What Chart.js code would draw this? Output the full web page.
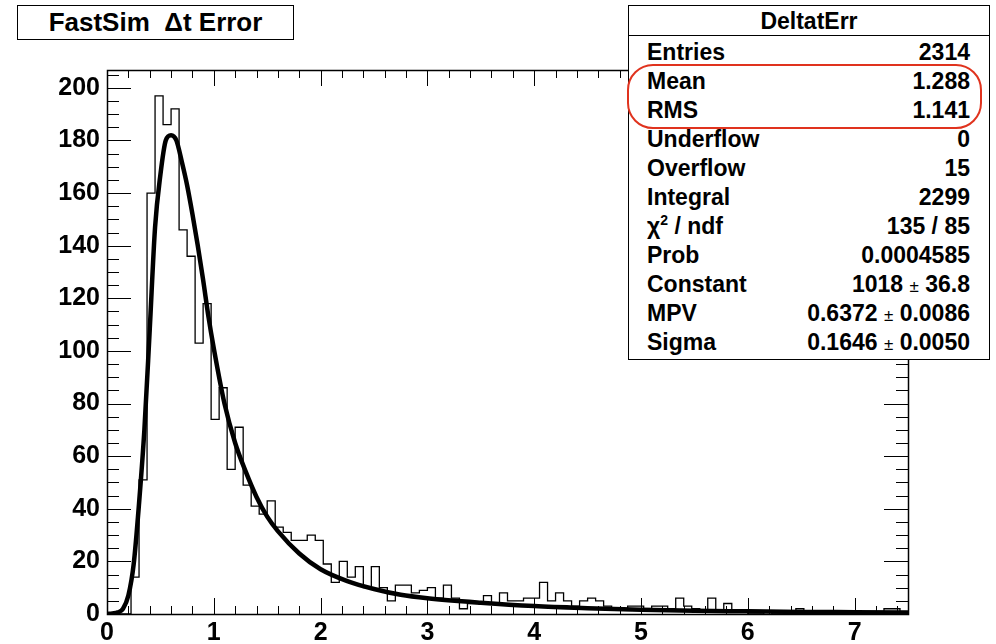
<!DOCTYPE html>
<html>
<head>
<meta charset="utf-8">
<title>FastSim Δt Error</title>
<script src="https://cdn.jsdelivr.net/npm/chart.js@4.4.1/dist/chart.umd.min.js"></script>
<style>
    body { margin: 0; background: #fff; }
    #wrap { position: relative; width: 996px; height: 644px; font-family: "Liberation Sans", Arial, Helvetica, sans-serif; font-weight: bold; color: #000; }
    #myChart { position: absolute; left: 0; top: 0; }
    .title-box {
        position: absolute; left: 17px; top: 5px; width: 277px; height: 35px;
        box-sizing: border-box; border: 1px solid #000; background: #fff;
        text-align: center; font-size: 26px; line-height: 33px;
    }
    .stats {
        position: absolute; left: 628px; top: 5px; width: 362px; height: 355px;
        box-sizing: border-box; border: 1px solid #000; background: #fff; font-size: 23px;
    }
    .stats .head { height: 29px; line-height: 31px; text-align: center; border-bottom: 1px solid #000; }
    .stats .rows { padding-top: 1.5px; }
    .stats .row { display: flex; justify-content: space-between; height: 29.1px; line-height: 29.1px; padding: 0 19px 0 18px; }
    .stats sup { font-size: 14px; line-height: 0; }
    .pm { font-size: 17px; font-weight: normal; }
    .mark {
        position: absolute; left: 627px; top: 64px; width: 355px; height: 65px;
        box-sizing: border-box; border: 2.5px solid #e0331e; border-radius: 26px;
    }
</style>
</head>
<body>
<div id="wrap">
    <canvas id="myChart" width="996" height="644"></canvas>
    <div class="title-box">FastSim&nbsp;&nbsp;&Delta;t Error</div>
    <div class="stats">
        <div class="head">DeltatErr</div>
        <div class="rows" id="statRows"></div>
    </div>
    <div class="mark"></div>
</div>
<script>
// histogram: 100 bins from 0 to 7.5
const binWidth = 0.075;
const binCounts = [
    0, 0, 0, 14, 51, 160, 197, 186, 192, 146,
    136, 103, 118, 74, 86, 55, 71, 49, 41, 38,
    43, 33, 31, 28, 28, 30, 28, 19, 12, 20,
    14, 18, 10, 18, 10, 5, 11, 11, 8, 9,
    10, 6, 11, 6, 2, 4, 4, 7, 4, 8,
    5, 5, 6, 6, 12, 5, 8, 5, 3, 5,
    6, 5, 3, 2, 2, 3, 3, 2, 3, 3,
    2, 6, 3, 2, 1, 6, 1, 4, 1, 1,
    0, 0, 1, 0, 0, 0, 2, 0, 0, 0,
    0, 0, 0, 0, 0, 0, 0, 2, 2, 0
];

// landau fit
const fitX = [0, 0.05, 0.1, 0.15, 0.2, 0.25, 0.3, 0.35, 0.4, 0.45, 0.5, 0.55, 0.6, 0.65, 0.7, 0.75, 0.8, 0.85, 0.9, 0.95,
    1.0, 1.1, 1.2, 1.3, 1.4, 1.5, 1.6, 1.8, 2.0, 2.25, 2.5, 2.75, 3.0, 3.5, 4.0, 4.5, 5.0, 5.5, 6.0, 6.5, 7.0, 7.5];
const fitY = [0, 0.2, 0.6, 2, 7, 19, 42, 70, 108, 147, 167, 180, 182, 180, 172, 163, 152, 140, 127, 113,
    101, 80, 65, 54, 44.5, 37, 31.5, 23, 17, 12.5, 9.5, 7.3, 6, 4.3, 3, 2.2, 1.6, 1.2, 1.0, 0.8, 0.7, 0.6];

// stats box
const statLabels = ['Entries', 'Mean', 'RMS', 'Underflow', 'Overflow', 'Integral', 'χ<sup>2</sup> / ndf', 'Prob', 'Constant', 'MPV', 'Sigma'];
const statValues = ['2314', '1.288', '1.141', '0', '15', '2299', '135 / 85', '0.0004585',
    '1018 <span class="pm">±</span> 36.8', '0.6372 <span class="pm">±</span> 0.0086', '0.1646 <span class="pm">±</span> 0.0050'];

const X_MIN = 0, X_MAX = 7.5;
const Y_MIN = 0, Y_MAX = 206.8;

const rows = document.getElementById('statRows');
statLabels.forEach((lab, i) => {
    const r = document.createElement('div');
    r.className = 'row';
    r.innerHTML = '<span>' + lab + '</span><span>' + statValues[i] + '</span>';
    rows.appendChild(r);
});

const histPoints = binCounts.map((c, i) => ({ x: i * binWidth, y: c }));
histPoints.push({ x: binCounts.length * binWidth, y: binCounts[binCounts.length - 1] });
const fitPoints = fitX.map((x, i) => ({ x: x, y: fitY[i] }));

const FONT = { family: '"Liberation Sans", Arial, Helvetica, sans-serif', size: 25, weight: 'bold' };

// frame + inward ticks on all four sides, ROOT style
const frameTicks = {
    id: 'frameTicks',
    afterDatasetsDraw(chart) {
        const { ctx, chartArea: a, scales } = chart;
        ctx.save();
        ctx.strokeStyle = '#000';
        ctx.lineWidth = 1;
        ctx.beginPath();
        scales.y.ticks.forEach(t => {
            const py = Math.round(scales.y.getPixelForValue(t.value)) + 0.5;
            const len = (t.value % 20 === 0) ? 24 : 12;
            ctx.moveTo(a.left, py); ctx.lineTo(a.left + len, py);
            ctx.moveTo(a.right, py); ctx.lineTo(a.right - len, py);
        });
        scales.x.ticks.forEach(t => {
            const px = Math.round(scales.x.getPixelForValue(t.value)) + 0.5;
            const major = Math.abs(t.value - Math.round(t.value)) < 1e-6;
            const len = major ? 16 : 8;
            ctx.moveTo(px, a.bottom); ctx.lineTo(px, a.bottom - len);
            ctx.moveTo(px, a.top); ctx.lineTo(px, a.top + len);
        });
        ctx.stroke();
        ctx.lineWidth = 1.5;
        ctx.strokeRect(a.left + 0.5, a.top + 0.5, a.right - a.left, a.bottom - a.top);
        ctx.restore();
    }
};

const ctx = document.getElementById('myChart');

let myChart = new Chart(ctx, {
    type: 'line',
    data: {
        datasets: [{
            label: 'DeltatErr',
            data: histPoints,
            stepped: 'before',
            borderColor: '#000',
            borderWidth: 1.3,
            pointRadius: 0,
            fill: false
        },
        {
            label: 'landau',
            data: fitPoints,
            borderColor: '#000',
            borderWidth: 4.5,
            pointRadius: 0,
            cubicInterpolationMode: 'monotone',
            fill: false
        }]
    },
    options: {
        responsive: false,
        animation: false,
        layout: { padding: { left: 0, top: 70, right: 88, bottom: 0 } },
        plugins: { legend: { display: false }, tooltip: { enabled: false } },
        scales: {
            x: {
                type: 'linear',
                min: X_MIN,
                max: X_MAX,
                grid: { display: false, drawTicks: false },
                border: { display: false },
                afterFit: (s) => { s.height = 30; },
                ticks: {
                    stepSize: 0.2,
                    includeBounds: false,
                    autoSkip: false,
                    maxRotation: 0,
                    padding: 4,
                    color: '#000',
                    font: FONT,
                    callback: function (value) {
                        return Math.abs(value - Math.round(value)) < 1e-6 ? String(Math.round(value)) : '';
                    }
                }
            },
            y: {
                min: Y_MIN,
                max: Y_MAX,
                grid: { display: false, drawTicks: false },
                border: { display: false },
                afterFit: (s) => { s.width = 107; },
                ticks: {
                    stepSize: 5,
                    includeBounds: false,
                    autoSkip: false,
                    padding: 7,
                    color: '#000',
                    font: FONT,
                    callback: function (value) {
                        return value % 20 === 0 ? String(value) : '';
                    }
                }
            }
        }
    },
    plugins: [frameTicks]
});
</script>
</body>
</html>
